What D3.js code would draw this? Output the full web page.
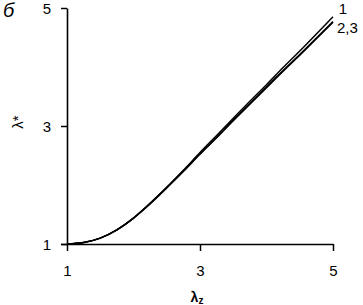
<!DOCTYPE html>
<html><head><meta charset="utf-8">
<script src="https://cdn.jsdelivr.net/npm/d3@7"></script>
<style>body{margin:0;background:#fff}svg{display:block}text{font-family:"Liberation Sans",Arial,sans-serif;fill:#000}</style>
</head><body><svg id="c" width="363" height="305"></svg>
<script>
const lambdaZ = [1.0,1.25,1.5,1.75,2.0,2.25,2.5,2.75,3.0,3.25,3.5,3.75,4.0,4.25,4.5,4.75,5.0];
const curve1  = [1.00,1.025,1.10,1.24,1.44,1.69,1.96,2.25,2.55,2.84,3.13,3.42,3.70,3.99,4.27,4.56,4.85];
const curve2  = [1.00,1.025,1.10,1.24,1.44,1.69,1.96,2.24,2.53,2.81,3.10,3.38,3.66,3.94,4.21,4.49,4.77];
const curve3  = [1.00,1.025,1.10,1.24,1.44,1.68,1.95,2.23,2.52,2.80,3.09,3.37,3.65,3.93,4.20,4.48,4.76];
const xTicks = [1,3,5];
const yTicks = [1,3,5];
const labels = ["1","2,3"];

const svg = d3.select("#c");
const x = d3.scaleLinear().domain([1,5]).range([67,333]);
const y = d3.scaleLinear().domain([1,5]).range([244,8]);
const fmt = d3.format("d");

const gx = svg.append("g").attr("transform","translate(0,244)")
  .call(d3.axisBottom(x).tickValues(xTicks).tickFormat(fmt).tickSize(7).tickPadding(14).tickSizeOuter(0));
const gy = svg.append("g").attr("transform","translate(67,0)")
  .call(d3.axisLeft(y).tickValues(yTicks).tickFormat(fmt).tickSize(6).tickPadding(10).tickSizeOuter(0));
[gx,gy].forEach(g=>{
  g.attr("font-family","Liberation Sans, Arial, sans-serif").attr("font-size",15);
  g.select(".domain").attr("stroke","#000").attr("stroke-width",1.6);
  g.selectAll(".tick line").attr("stroke","#000").attr("stroke-width",1.5);
  g.selectAll(".tick text").attr("fill","#000");
});
gy.selectAll(".tick text").attr("dy","0.35em");
gx.select(".domain").attr("d","M61,0.5H333.5");

const line = d3.line().x((d,i)=>x(lambdaZ[i])).y(d=>y(d)).curve(d3.curveMonotoneX);
[curve3,curve2,curve1].forEach(c=>{
  svg.append("path").datum(c).attr("d",line).attr("fill","none").attr("stroke","#000").attr("stroke-width",1.5);
});

svg.append("text").attr("x",x(5)+10).attr("y",y(curve1[16])-3).attr("text-anchor","middle").attr("font-size",15).text(labels[0]);
svg.append("text").attr("x",x(5)+4).attr("y",y(curve2[16])+11).attr("font-size",15).text(labels[1]);

const xt = svg.append("text").attr("x",197).attr("y",302).attr("text-anchor","middle").attr("font-size",14).attr("font-weight","bold");
xt.append("tspan").text("λ");
xt.append("tspan").attr("font-size",10).attr("dy",2).text("z");

svg.append("text").attr("transform","translate(23,122) rotate(-90)").attr("text-anchor","middle").attr("font-size",15).text("λ*");

svg.append("text").attr("x",3).attr("y",17).attr("font-size",20).attr("font-style","italic").attr("font-family","Liberation Serif, serif").text("б");
</script></body></html>
